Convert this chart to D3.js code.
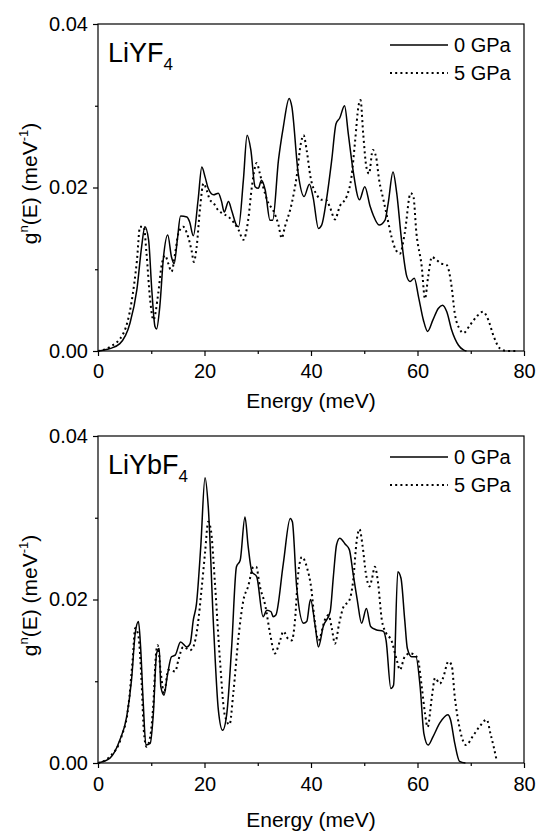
<!DOCTYPE html>
<html>
<head>
<meta charset="utf-8">
<script src="https://cdn.jsdelivr.net/npm/d3@7"></script>
<style>
  body { margin: 0; background: #fff; }
  svg { display: block; font-family: "Liberation Sans", Arial, Helvetica, sans-serif; }
</style>
</head>
<body>
<script>
// axis ticks
const xMajor = [0, 20, 40, 60, 80];
const xMinor = [10, 30, 50, 70];
const yMajor = [0, 0.02, 0.04];
const yMinor = [0.01, 0.03];
const seriesNames = ["0 GPa", "5 GPa"];

// LiYF4, [energy meV, g(E) meV^-1]
const liyf4_0GPa = [[0,0],[2.25,0.0003],[4.1,0.0009],[6.0,0.0034],[7.3,0.0075],[8.2,0.0128],[8.8,0.0152],[9.5,0.0136],[10.1,0.0075],[10.7,0.003],[11.0,0.0027],[11.6,0.0054],[12.3,0.0115],[13.1,0.0142],[13.8,0.0115],[14.3,0.0107],[14.9,0.0136],[15.5,0.0165],[16.7,0.0164],[17.2,0.0158],[17.9,0.0141],[18.8,0.0185],[19.5,0.0225],[20.1,0.0213],[20.7,0.0199],[21.7,0.0191],[22.6,0.0193],[23.2,0.0183],[23.7,0.017],[24.5,0.0183],[25.1,0.0172],[26.0,0.0154],[26.4,0.0152],[27.3,0.0209],[28.0,0.0264],[28.7,0.0246],[29.5,0.0201],[30.1,0.0199],[30.7,0.0209],[31.4,0.0197],[32.3,0.016],[32.8,0.016],[33.9,0.0234],[34.8,0.0274],[35.9,0.0309],[36.4,0.0299],[37.6,0.0217],[38.7,0.0189],[39.7,0.0204],[40.4,0.0188],[41.4,0.015],[42.0,0.0154],[42.9,0.0185],[43.9,0.0234],[44.7,0.0278],[45.4,0.0285],[46.3,0.03],[47.0,0.0266],[47.9,0.0221],[49.1,0.0185],[50.1,0.0201],[51.1,0.0177],[51.7,0.0166],[52.8,0.0154],[53.9,0.016],[54.5,0.0181],[55.4,0.0219],[56.1,0.0193],[57.0,0.0136],[58.0,0.0091],[58.6,0.0085],[59.4,0.0089],[60.2,0.0066],[61.1,0.0038],[61.9,0.0024],[62.9,0.0038],[63.9,0.0052],[64.7,0.0056],[65.5,0.0048],[66.4,0.0026],[67.7,0.0007],[68.7,0.0001],[69.2,0]];
const liyf4_5GPa = [[0,0],[2.25,0.0005],[4.8,0.0022],[6.3,0.006],[7.3,0.011],[7.9,0.0152],[8.6,0.0152],[9.1,0.012],[9.8,0.0062],[10.4,0.0038],[11.3,0.007],[11.9,0.0103],[12.6,0.0117],[13.2,0.0107],[13.8,0.0097],[14.5,0.012],[15.1,0.0144],[16.0,0.0152],[16.7,0.0144],[17.6,0.0122],[18.0,0.0109],[18.5,0.0126],[19.2,0.0177],[19.8,0.0205],[20.4,0.0197],[21.0,0.0185],[21.7,0.0181],[22.6,0.0172],[23.5,0.0168],[24.5,0.0164],[25.4,0.0158],[26.4,0.0148],[27.3,0.0136],[28.2,0.016],[28.9,0.0201],[29.8,0.023],[30.4,0.0217],[31.0,0.0201],[32.0,0.0181],[32.9,0.0172],[33.9,0.0154],[34.5,0.0138],[35.1,0.0152],[36.4,0.0181],[37.3,0.0213],[38.1,0.0254],[38.6,0.0264],[39.2,0.0245],[39.9,0.0213],[41.1,0.0191],[42.0,0.0185],[42.8,0.0185],[43.6,0.0175],[44.5,0.0161],[45.4,0.0177],[46.7,0.0189],[47.6,0.0213],[48.3,0.0258],[48.9,0.0299],[49.3,0.0307],[49.8,0.0266],[50.4,0.0225],[50.9,0.0217],[51.6,0.0246],[52.2,0.0238],[52.8,0.0209],[53.6,0.0185],[54.3,0.0164],[55.1,0.014],[55.9,0.0124],[56.7,0.0119],[57.6,0.0144],[58.7,0.0193],[59.2,0.019],[59.8,0.0144],[60.8,0.0103],[61.4,0.0064],[62.0,0.0091],[62.7,0.0115],[63.6,0.0111],[64.5,0.0107],[65.5,0.0105],[66.4,0.0079],[67.0,0.0046],[68.0,0.0026],[68.6,0.0022],[69.9,0.0032],[71.1,0.0042],[72.3,0.0048],[73.3,0.0038],[74.3,0.0018],[75.5,0.0003],[76.8,0],[78.7,0]];

// LiYbF4
const liybf4_0GPa = [[0,0],[2.25,0.0006],[4.1,0.0028],[5.4,0.0057],[6.3,0.0102],[7.0,0.0159],[7.6,0.0173],[8.0,0.0142],[8.5,0.0073],[9.0,0.0022],[9.8,0.0024],[10.4,0.0061],[11.0,0.0134],[11.5,0.014],[11.8,0.0093],[12.4,0.0083],[13.0,0.0106],[13.8,0.013],[14.5,0.0132],[15.5,0.0148],[16.7,0.0142],[17.3,0.0146],[17.9,0.0175],[18.5,0.0195],[19.3,0.0265],[20.1,0.0349],[20.7,0.0314],[21.7,0.0167],[22.6,0.0065],[23.4,0.004],[24.2,0.0061],[25.1,0.0142],[26.0,0.024],[26.7,0.0248],[27.6,0.0301],[28.2,0.0265],[28.9,0.0234],[29.8,0.0228],[31.0,0.0179],[31.7,0.0187],[32.5,0.0185],[32.9,0.0179],[33.4,0.0181],[34.8,0.0244],[36.1,0.0299],[36.5,0.0295],[37.3,0.0216],[38.6,0.0171],[39.2,0.0173],[39.9,0.02],[40.8,0.0167],[41.4,0.0142],[42.3,0.0167],[43.6,0.0185],[44.2,0.0228],[44.8,0.0267],[45.4,0.0275],[46.4,0.0268],[47.2,0.0261],[47.9,0.0232],[48.7,0.0199],[49.5,0.0171],[50.4,0.0189],[51.2,0.0167],[52.2,0.0163],[53.6,0.0161],[54.1,0.015],[55.0,0.0091],[55.5,0.0095],[56.3,0.0234],[56.9,0.0226],[57.6,0.0175],[58.1,0.014],[58.9,0.013],[59.7,0.013],[60.5,0.0093],[61.2,0.0036],[62.0,0.0022],[62.9,0.0032],[64.2,0.0049],[65.7,0.0059],[66.2,0.0053],[67.0,0.0024],[67.9,0.0002],[69.0,0]];
const liybf4_5GPa = [[0,0],[2.25,0.0008],[4.4,0.0032],[5.7,0.0069],[6.5,0.0126],[7.0,0.0165],[7.6,0.0155],[8.2,0.0097],[8.6,0.004],[9.1,0.002],[9.8,0.0032],[10.4,0.0073],[10.9,0.0134],[11.2,0.0144],[11.8,0.011],[12.4,0.0085],[13.2,0.0114],[14.5,0.0112],[15.1,0.0126],[16.0,0.0142],[17.3,0.0138],[17.9,0.0142],[18.7,0.0167],[19.5,0.0216],[20.1,0.0257],[20.7,0.0295],[21.2,0.0285],[22.0,0.0216],[22.9,0.0126],[23.8,0.0059],[24.7,0.0047],[25.4,0.0085],[26.4,0.0155],[27.3,0.0199],[28.2,0.0216],[29.2,0.024],[29.7,0.024],[30.4,0.0216],[31.4,0.0193],[32.3,0.0159],[33.2,0.0134],[34.2,0.015],[34.8,0.0161],[35.7,0.0152],[36.4,0.015],[37.0,0.0175],[37.6,0.0232],[38.3,0.0252],[39.2,0.024],[40.1,0.0211],[40.6,0.0179],[41.4,0.015],[42.6,0.0175],[43.3,0.0181],[43.9,0.0165],[44.5,0.0146],[45.3,0.0171],[46.1,0.0191],[47.2,0.0199],[47.9,0.0222],[48.6,0.0273],[49.1,0.0286],[49.7,0.0265],[50.3,0.0232],[51.0,0.0216],[51.4,0.0224],[52.0,0.024],[52.6,0.022],[53.3,0.0175],[54.1,0.0159],[55.1,0.015],[56.1,0.0126],[56.7,0.0114],[57.6,0.013],[58.6,0.0134],[59.5,0.0132],[60.1,0.0126],[60.8,0.0093],[61.4,0.0061],[61.9,0.0044],[62.7,0.0081],[63.3,0.0104],[64.2,0.0097],[64.8,0.0104],[65.8,0.0124],[66.4,0.012],[67.0,0.0081],[68.0,0.004],[69.1,0.0022],[70.5,0.0034],[71.7,0.0045],[73.0,0.0053],[73.7,0.0036],[74.3,0.002],[74.9,0.0002]];

// set the dimensions and margins of the graph
const margin = {left: 98, right: 12},
    width = 536 - margin.left - margin.right,
    height = 327;

const svg = d3.select("body").append("svg")
    .attr("width", 536)
    .attr("height", 831);

const x = d3.scaleLinear().domain([0, 80]).range([0, width]);
const y = d3.scaleLinear().domain([0, 0.04]).range([height, 0]);

const line = d3.line()
    .x(d => x(d[0]))
    .y(d => y(d[1]))
    .curve(d3.curveMonotoneX);

const dotted = "2,3.2";

function drawPanel(top, name, sub, s0, s5, titleY, tickPad) {
    const g = svg.append("g")
        .attr("transform", "translate(" + margin.left + "," + top + ")");

    // frame
    g.append("rect")
        .attr("width", width).attr("height", height)
        .attr("fill", "none").attr("stroke", "#000").attr("stroke-width", 1.2);

    // x axis, major + minor ticks
    g.append("g")
        .attr("transform", "translate(0," + height + ")")
        .call(d3.axisBottom(x).tickValues(xMajor).tickSize(5).tickSizeOuter(0).tickPadding(tickPad).tickFormat(d3.format("d")));
    g.append("g")
        .attr("transform", "translate(0," + height + ")")
        .call(d3.axisBottom(x).tickValues(xMinor).tickSize(3).tickSizeOuter(0).tickFormat(""));

    // y axis
    g.append("g")
        .call(d3.axisLeft(y).tickValues(yMajor).tickSize(5).tickSizeOuter(0).tickPadding(5).tickFormat(d3.format(".2f")));
    g.append("g")
        .call(d3.axisLeft(y).tickValues(yMinor).tickSize(3).tickSizeOuter(0).tickFormat(""));

    g.selectAll(".domain").remove();
    g.selectAll(".tick line").attr("stroke", "#000").attr("stroke-width", 1.2);
    g.selectAll(".tick text")
        .attr("font-family", "Liberation Sans, Arial, sans-serif")
        .attr("font-size", 20)
        .attr("fill", "#000");

    // curves
    g.append("path").datum(s5)
        .attr("fill", "none").attr("stroke", "#000")
        .attr("stroke-width", 2).attr("stroke-dasharray", dotted)
        .attr("d", line);
    g.append("path").datum(s0)
        .attr("fill", "none").attr("stroke", "#000")
        .attr("stroke-width", 1.5)
        .attr("d", line);

    // compound label
    const lab = g.append("text")
        .attr("x", 10).attr("y", 38)
        .attr("font-size", 27);
    lab.append("tspan").text(name);
    lab.append("tspan").attr("font-size", 17).attr("dy", 8).text(sub);

    // legend
    const legendY = [21, 49];
    seriesNames.forEach(function(s, i) {
        g.append("line")
            .attr("x1", 292).attr("x2", 350)
            .attr("y1", legendY[i]).attr("y2", legendY[i])
            .attr("stroke", "#000")
            .attr("stroke-width", i == 0 ? 1.5 : 2)
            .attr("stroke-dasharray", i == 0 ? null : dotted);
        g.append("text")
            .attr("x", 356).attr("y", legendY[i] + 7)
            .attr("font-size", 20)
            .text(s);
    });

    // x-axis label
    g.append("text")
        .attr("x", width / 2)
        .attr("y", titleY)
        .attr("text-anchor", "middle")
        .attr("font-size", 21)
        .text("Energy (meV)");

    // y-axis label
    const yl = g.append("text")
        .attr("transform", "translate(" + (37 - margin.left) + "," + (height / 2 - 4) + ") rotate(-90)")
        .attr("text-anchor", "middle")
        .attr("font-size", 21);
    yl.append("tspan").text("g");
    yl.append("tspan").attr("font-size", 13).attr("dy", -9).text("n");
    yl.append("tspan").attr("dy", 9).text("(E) (meV");
    yl.append("tspan").attr("font-size", 13).attr("dy", -9).text("-1");
    yl.append("tspan").attr("dy", 9).text(")");
}

drawPanel(24, "LiYF", "4", liyf4_0GPa, liyf4_5GPa, height + 57, 8);
drawPanel(436, "LiYbF", "4", liybf4_0GPa, liybf4_5GPa, height + 64, 9);
</script>
</body>
</html>
